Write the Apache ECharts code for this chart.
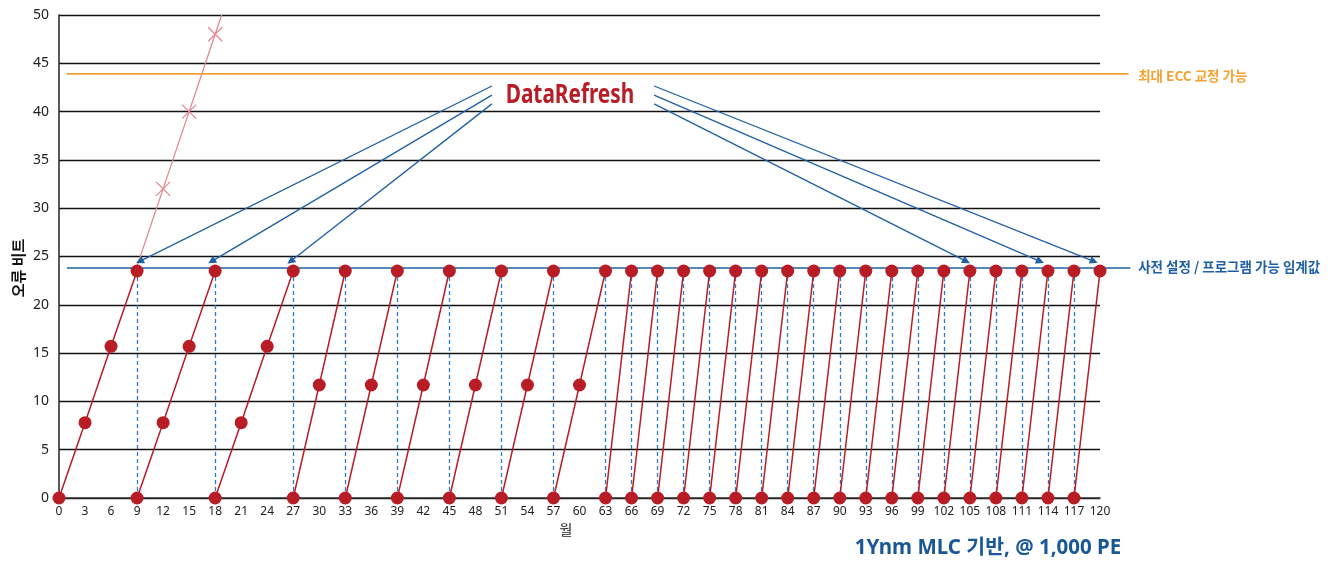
<!DOCTYPE html>
<html><head><meta charset="utf-8">
<script src="https://cdn.jsdelivr.net/npm/echarts@6/dist/echarts.min.js"></script>
<style>html,body{margin:0;padding:0;background:#fff}#c{width:1335px;height:561px}</style>
</head><body><div id="c"></div><script>
// ---- data ----
const bits9 = [0, 7.8, 15.7, 23.5];
const bits6 = [0, 11.7, 23.5];
const bits3 = [0, 23.5];
const starts9 = [0, 9, 18];
const starts6 = [27, 33, 39, 45, 51, 57];
const starts3 = [63, 66, 69, 72, 75, 78, 81, 84, 87, 90, 93, 96, 99, 102, 105, 108, 111, 114, 117];
const stepMonths = 3;
const noRefreshMonths = [9, 12, 15, 18, 18.75];
const noRefreshBits = [24, 32, 40, 48, 50];
const thresholdBits = 23.8;
const eccMaxBits = 43.9;
const refreshTopBits = 23.5;
const refLineMonths = [0.9, 123.3];
const labelMonth = 124.4;
const arrowFrom = [[49.9, 42.65], [49.9, 41.7], [49.9, 40.8], [68.6, 42.65], [68.6, 41.7], [68.6, 40.8]];
const arrowTo = [[9.3, 24.5], [17.6, 24.5], [26.7, 24.5], [119.3, 24.5], [113.1, 24.5], [104.6, 24.5]];
const dataRefreshPos = [58.9, 41.7];
const xMin = 0, xMax = 120, xInterval = 3;
const yMin = 0, yMax = 50, yInterval = 5;
const labelEcc = '최대 ECC 교정 가능';
const labelThreshold = '사전 설정 / 프로그램 가능 임계값';
const labelRefresh = 'DataRefresh';
const yName = '오류 비트';
const xName = '월';
const footnote = '1Ynm MLC 기반, @ 1,000 PE';

// ---- styles ----
const RED = '#b81c25', PINK = '#e08a90', BLUE = '#1f5fa3', DASHBLUE = '#2a7bc4', ORANGE = '#f5a233';
const NUMF = "'Noto Sans', sans-serif";
const KR = "'Noto Sans CJK KR', 'Noto Sans', sans-serif";

const series = [];
function addCycles(starts, bits) {
  starts.forEach(s => {
    series.push({
      type: 'line', z: 5,
      data: bits.map((b, i) => [s + i * stepMonths, b]),
      symbol: 'circle', symbolSize: 13,
      itemStyle: { color: RED },
      lineStyle: { color: RED, width: 1.5 },
      emphasis: { disabled: true }, silent: true
    });
  });
}
addCycles(starts9, bits9);
addCycles(starts6, bits6);
addCycles(starts3, bits3);

const xPath = 'path://M0,0L10,10M10,0L0,10';
series.push({
  type: 'line', z: 4,
  data: noRefreshMonths.map((m, i) => ({
    value: [m, noRefreshBits[i]],
    symbol: (i === 0 || i === noRefreshMonths.length - 1) ? 'none' : xPath
  })),
  symbolSize: 14,
  itemStyle: { color: 'none', borderColor: PINK, borderWidth: 1.3 },
  lineStyle: { color: PINK, width: 1.3 },
  emphasis: { disabled: true }, silent: true
});

const refreshMonths = starts9.concat(starts6, starts3).filter(m => m > 0);
series.push({
  type: 'scatter', data: [], z: 3, silent: true,
  markLine: {
    silent: true, symbol: ['none', 'none'], label: { show: false },
    lineStyle: { color: DASHBLUE, type: [4, 3], width: 1.3 },
    emphasis: { disabled: true },
    data: refreshMonths.map(m => [{ coord: [m, 0] }, { coord: [m, refreshTopBits] }])
  }
});
series.push({
  type: 'scatter', data: [], z: 6, silent: true,
  markLine: {
    silent: true, symbol: ['none', 'triangle'], symbolSize: 8, label: { show: false },
    lineStyle: { color: BLUE, type: 'solid', width: 1.3 },
    emphasis: { disabled: true },
    data: arrowFrom.map((f, i) => [{ coord: f }, { coord: arrowTo[i] }])
  }
});

const chart = echarts.init(document.getElementById('c'));
chart.setOption({
  animation: false,
  backgroundColor: '#fff',
  grid: { left: 59, right: 235, top: 15, bottom: 63 },
  xAxis: {
    type: 'value', min: xMin, max: xMax, interval: xInterval,
    axisLine: { lineStyle: { color: '#333', width: 1.5 } },
    axisTick: { show: false },
    axisLabel: { color: '#222', fontSize: 12, fontFamily: NUMF, margin: 8 },
    splitLine: { show: false }
  },
  yAxis: {
    type: 'value', min: yMin, max: yMax, interval: yInterval,
    axisLine: { show: true, lineStyle: { color: '#222', width: 1.5 } },
    axisTick: { show: false },
    axisLabel: { color: '#222', fontSize: 14, fontFamily: NUMF, margin: 10 },
    splitLine: { lineStyle: { color: '#111', width: 1.4 } }
  },
  series: series
});

function px(p) { return chart.convertToPixel({ gridIndex: 0 }, p); }
const e0 = px([refLineMonths[0], eccMaxBits]), e1 = px([refLineMonths[1], eccMaxBits]);
const t0 = px([refLineMonths[0], thresholdBits]), t1 = px([refLineMonths[1] + 0.2, thresholdBits]);
const le = px([labelMonth, eccMaxBits]), lt = px([labelMonth, thresholdBits]);
const dr = px(dataRefreshPos);

chart.setOption({
  graphic: [
    { type: 'line', z: 3, silent: true, shape: { x1: e0[0], y1: e0[1], x2: e1[0], y2: e1[1] }, style: { stroke: ORANGE, lineWidth: 1.8 } },
    { type: 'line', z: 3, silent: true, shape: { x1: t0[0], y1: t0[1], x2: t1[0], y2: t1[1] }, style: { stroke: BLUE, lineWidth: 1.5 } },
    { type: 'text', z: 10, silent: true, x: le[0], y: le[1] + 2, style: { text: labelEcc, fill: ORANGE, font: "bold 13.5px " + KR, align: 'left', verticalAlign: 'middle' } },
    { type: 'text', z: 10, silent: true, x: lt[0], y: lt[1] - 1, style: { text: labelThreshold, fill: BLUE, font: "bold 13.5px " + KR, align: 'left', verticalAlign: 'middle' } },
    { type: 'text', z: 10, silent: true, x: dr[0], y: dr[1], scaleX: 0.8, style: { text: labelRefresh, fill: RED, font: "bold 26px " + NUMF, align: 'center', verticalAlign: 'middle' } },
    { type: 'text', z: 10, silent: true, x: 18, y: 268, rotation: Math.PI / 2, style: { text: yName, fill: '#111', font: "bold 15px " + KR, align: 'center', verticalAlign: 'middle' } },
    { type: 'text', z: 10, silent: true, x: 566, y: 530, style: { text: xName, fill: '#222', font: "14px " + KR, align: 'center', verticalAlign: 'middle' } },
    { type: 'text', z: 10, silent: true, x: 988, y: 548, style: { text: footnote, fill: '#1a5796', font: "bold 20.5px 'Noto Sans', " + KR, align: 'center', verticalAlign: 'middle' } }
  ]
});
</script></body></html>
